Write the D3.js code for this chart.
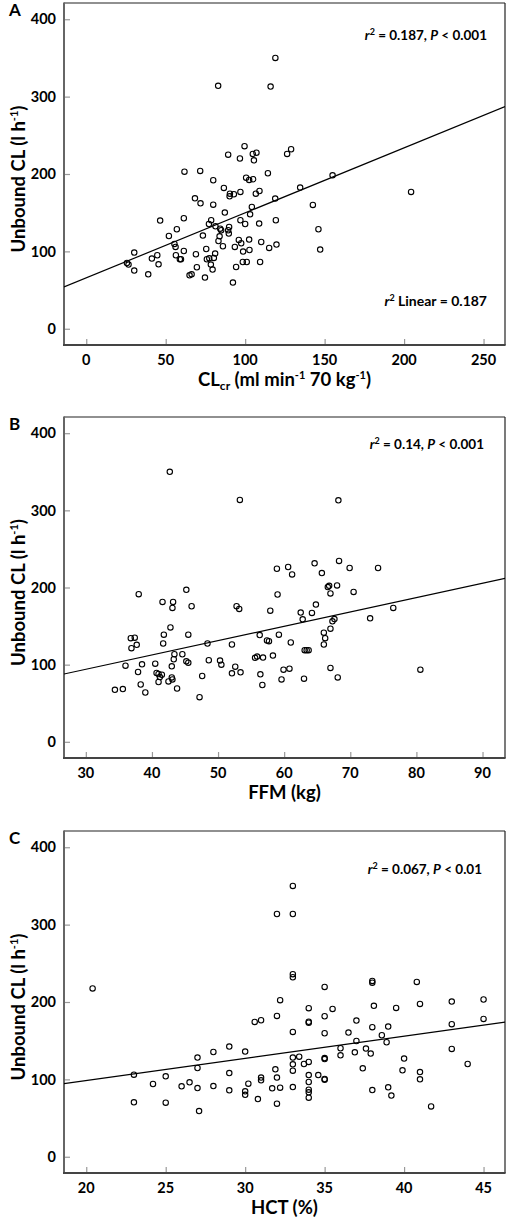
<!DOCTYPE html>
<html><head><meta charset="utf-8">
<script src="https://cdn.jsdelivr.net/npm/d3@7"></script>
<style>
html,body{margin:0;padding:0;background:#fff;}
svg text{font-family:Lato,"Open Sans",sans-serif;font-weight:bold;fill:#000;}
</style></head>
<body><svg id="chart" width="506" height="1220"></svg>
<script>
// ---------- data ----------
const yTicks = [0, 100, 200, 300, 400];
const xTicksA = [0, 50, 100, 150, 200, 250];
const xTicksB = [30, 40, 50, 60, 70, 80, 90];
const xTicksC = [20, 25, 30, 35, 40, 45];

const clcrA = [119,83,116,99.6,89.3,96.7,104.8,107.1,105.5,126.4,128.9,61.8,71.7,114.3,155,79.9,100.6,102.5,105,86.6,134.6,68.4,71.9,79.9,90.4,90.2,92.9,97,106.7,109,118.9,142.6,204.4,104.2,103.1,87.2,46.5,61.4,78.6,77.2,81.3,84.3,84.9,89.9,89.3,97,100,108.8,119.3,57,52,73.4,83.9,89.7,55.5,56.2,83.2,86,96,97.5,102.5,110.1,93.5,102.7,98.7,115.1,119.7,146.1,147.2,30.2,25.6,26.6,30.2,39,41.3,44.7,45.5,61.4,56.4,58.9,59.6,69,75.5,81.1,75.9,77.4,80.3,78.4,79.5,69.6,65,66.3,74.7,92.3,94.3,98.5,101,109.4];
const clA = [350,314,313,236,225,220,226,227.6,217.7,226,232,203,204,201,198.3,191.9,195.3,192.3,193.2,182,182.4,168.6,162.1,160.4,174.6,171.2,173.8,176.8,174.6,178,168.2,160,176.8,157.4,147.9,150.1,139.8,142.8,140.2,135.4,132.4,129.4,127.3,131.5,127.3,140.2,135.4,135.9,140.2,128.6,119.9,120.4,119.5,123,109.6,105.7,113.4,106.6,114.7,110.5,115.2,112.1,105.7,101.8,99.7,104.4,108.8,128.6,102.3,98.4,85,83,75.2,70.4,90.7,95,83.3,100.5,95,89.8,89.8,96.3,103.1,97.2,89.8,91,91.5,82.9,76.5,79.5,69.1,70.4,66.1,59.7,79.8,86.3,86.3,86.3];

const ffmB = [42.7,53.3,68.2,58.9,60.6,61.2,64.6,65.7,68.3,69.9,74.2,38,45.2,41.6,43.2,43.1,46,52.8,53.2,59,57.9,62.5,62.8,64.2,64.8,66.6,66.8,68,67,70.5,76.5,73,67.3,67.6,67,66,66.2,66,36.8,37.4,36.9,37.7,42.8,41.8,41.7,45.5,43.4,43.3,44.6,48.4,52.1,56.3,57.4,57.7,59.2,61,63.1,63.4,63.7,36,38.5,37.9,38.3,39,34.4,35.6,40.5,40.7,41,41.5,41.2,41,42.5,43,43.1,43,43.8,45.2,45.5,47.6,47.2,48.6,50.3,50.5,52.6,52.1,53.4,55.6,55.9,56.8,58.3,56.4,56.7,59.9,60.8,59.6,63,67,68.1,80.6];
const clB = [350,313.5,313,224.3,226.6,217,231.4,218.7,234.4,225.3,225.3,191.3,197,181.3,181.3,173.5,175.7,175.7,172.2,190.9,170,167.5,158.7,167,177.9,200.5,202.2,202.7,192.3,194.3,173.5,160,156.1,159.1,146.6,141.4,134.3,126.1,134.3,134.9,121.3,125.7,148.3,138.8,127.4,138.8,113.5,107,113.5,127.4,126.1,138.3,131.3,130.4,138.8,128.7,118.7,118.7,118.7,98.7,100.4,90.5,74.3,63.9,67.4,68.3,101.3,89.2,87.9,87,84,77.5,78.3,83.5,80.9,97.8,69.1,104.3,102.6,85.3,57.9,105.7,105.3,100,97.4,88.7,90,108.8,110.5,109.2,111.8,87.4,73.6,93.5,94.8,80.9,81.8,95.7,83.5,93.5];

const hctC = [33,32,33,20.4,33,33,38,38,40.8,35,32.2,45,43,41,38.1,39.5,34,35.5,32,35,30.6,31,34,34,37,45,43,38,39,33,35,36.5,38.6,38.9,37,43,36,36,36.9,37.6,37.9,40,44,39.9,41,41,37.4,38,39,39.2,41.7,27,27,27,28,29,30,29,28,29,23,23,24.2,25,25,26,26.5,27.1,30,30,30.2,30.8,31,31,31.7,32.2,31.9,32,32,33,33.4,33,33,33.7,33,34,34,34,34,34,34,34.6,35,35,35,35];
const clC = [350,313.7,313.7,217.5,236,232,227.3,225,226,219.5,202.3,203.2,200.6,197.5,195,192.4,192,191.1,182,181.6,174.2,176.4,174.5,173.3,176,178.1,171.3,167.4,168.3,161.3,159.6,160.5,157,148,149.6,139.3,140.2,131.1,135,139.8,133.3,126.9,119.9,111.7,109.5,100.1,114.3,86.2,89.7,79,65.1,128.2,114.7,88.8,135.4,142.4,135.9,108.2,91.4,85.8,106.1,70.3,94,103.9,69.9,91,96.2,59,84.5,80,94.5,74.6,102.3,98.8,88.4,89.3,113,102.3,68.6,128.2,129.4,119.5,111.3,119.9,90.1,122.5,105.6,96.6,86.7,83.2,76.4,105.6,127.5,126.3,100.5,99.5];

// regression lines: [intercept, slope]
const fitA = [65.8, 0.84];
const fitB = [38.3, 1.857];
const fitC = [41.1, 2.87];

const yTitle = "Unbound CL";
const panelLetters = ["A", "B", "C"];
const statsA = ["0.187", "< 0.001"];
const statsB = ["0.14", "< 0.001"];
const statsC = ["0.067", "< 0.01"];
const linearA = "0.187";

// ---------- layout ----------
const svg = d3.select("#chart");
const left = 64, right = 505;
const panels = [
  {top: 3, bottom: 345, xDom: [-14, 263.5], xTicks: xTicksA, xs: clcrA, ys: clA, fit: fitA, stats: statsA, statY: 37, statX: 487, letter: panelLetters[0], xt: "A"},
  {top: 417, bottom: 758, xDom: [26.7, 93.4], xTicks: xTicksB, xs: ffmB, ys: clB, fit: fitB, stats: statsB, statY: 32, statX: 484, letter: panelLetters[1], xt: "B"},
  {top: 831, bottom: 1173, xDom: [18.6, 46.35], xTicks: xTicksC, xs: hctC, ys: clC, fit: fitC, stats: statsC, statY: 43, statX: 482, letter: panelLetters[2], xt: "C"}
];

panels.forEach((p, i) => {
  const g = svg.append("g");
  const x = d3.scaleLinear().domain(p.xDom).range([left, right]);
  const y = d3.scaleLinear().domain([-21, 421]).range([p.bottom, p.top]);

  // clip
  const cid = "clip" + i;
  svg.append("clipPath").attr("id", cid).append("rect")
    .attr("x", left).attr("y", p.top).attr("width", right - left).attr("height", p.bottom - p.top);

  // frame top/right
  g.append("line").attr("x1", left).attr("x2", right).attr("y1", p.top).attr("y2", p.top)
    .attr("stroke", "#222").attr("stroke-width", 1.2);
  g.append("line").attr("x1", right).attr("x2", right).attr("y1", p.top).attr("y2", p.bottom)
    .attr("stroke", "#222").attr("stroke-width", 1.2);

  // y axis (ticks inward)
  const ya = d3.axisRight(y).tickValues(yTicks).tickSize(6).tickFormat("");
  const yg = g.append("g").attr("transform", `translate(${left},0)`).call(ya);
  yg.select(".domain").remove();
  yg.selectAll(".tick line").attr("stroke", "#999").attr("stroke-width", 1.2);
  yTicks.forEach(t => {
    g.append("text").attr("x", 56).attr("y", y(t)).attr("dy", "0.36em")
      .attr("text-anchor", "end").attr("font-size", 14.5).text(t);
  });

  // x axis (ticks inward)
  const xa = d3.axisTop(x).tickValues(p.xTicks).tickSize(6).tickFormat("");
  const xg = g.append("g").attr("transform", `translate(0,${p.bottom})`).call(xa);
  xg.select(".domain").remove();
  xg.selectAll(".tick line").attr("stroke", "#999").attr("stroke-width", 1.2);
  p.xTicks.forEach(t => {
    g.append("text").attr("x", x(t)).attr("y", p.bottom + 20)
      .attr("text-anchor", "middle").attr("font-size", 14.5).text(t);
  });

  // axis lines left/bottom
  g.append("line").attr("x1", left).attr("x2", left).attr("y1", p.top - 0.5).attr("y2", p.bottom + 1)
    .attr("stroke", "#666").attr("stroke-width", 2);
  g.append("line").attr("x1", left - 1).attr("x2", right + 0.6).attr("y1", p.bottom).attr("y2", p.bottom)
    .attr("stroke", "#444").attr("stroke-width", 2);

  // regression line
  const lineData = p.xDom.map(v => [v, p.fit[0] + p.fit[1] * v]);
  g.append("path").attr("clip-path", `url(#${cid})`)
    .attr("d", d3.line().x(d => x(d[0])).y(d => y(d[1]))(lineData))
    .attr("stroke", "#000").attr("stroke-width", 1.2).attr("fill", "none");

  // points
  g.append("g").selectAll("circle").data(p.xs.map((v, k) => [v, p.ys[k]])).join("circle")
    .attr("cx", d => x(d[0])).attr("cy", d => y(d[1])).attr("r", 2.7)
    .attr("fill", "none").attr("stroke", "#000").attr("stroke-width", 1.1);

  // panel letter
  g.append("text").attr("x", 9).attr("y", p.top + 13).attr("font-size", 17).text(p.letter);

  // y title
  const yt = g.append("text").attr("text-anchor", "middle").attr("font-size", 18.5)
    .attr("transform", `translate(25,${(p.top + p.bottom) / 2 + 5}) rotate(-90)`);
  yt.append("tspan").text(yTitle + " (l h");
  yt.append("tspan").attr("font-size", 11).attr("dy", -7).text("-1");
  yt.append("tspan").attr("dy", 7).text(")");

  // stats annotation
  const st = g.append("text").attr("x", p.statX).attr("y", p.top + p.statY)
    .attr("text-anchor", "end").attr("font-size", 13.5);
  st.append("tspan").attr("font-style", "italic").text("r");
  st.append("tspan").attr("font-size", 9).attr("dy", -5).text("2");
  st.append("tspan").attr("dy", 5).text(" = " + p.stats[0] + ", ");
  st.append("tspan").attr("font-style", "italic").text("P");
  st.append("tspan").text(" " + p.stats[1]);

  // x title
  const xtl = g.append("text").attr("x", (left + right) / 2).attr("y", p.bottom + 41)
    .attr("text-anchor", "middle").attr("font-size", 18.5);
  if (p.xt === "A") {
    xtl.append("tspan").text("CL");
    xtl.append("tspan").attr("font-size", 12).attr("dy", 4).text("cr");
    xtl.append("tspan").attr("dy", -4).text(" (ml min");
    xtl.append("tspan").attr("font-size", 11).attr("dy", -7).text("-1");
    xtl.append("tspan").attr("dy", 7).text(" 70 kg");
    xtl.append("tspan").attr("font-size", 11).attr("dy", -7).text("-1");
    xtl.append("tspan").attr("dy", 7).text(")");
    // r2 Linear
    const lt = g.append("text").attr("x", 487).attr("y", p.top + 303)
      .attr("text-anchor", "end").attr("font-size", 14);
    lt.append("tspan").attr("font-style", "italic").text("r");
    lt.append("tspan").attr("font-size", 9).attr("dy", -5).text("2");
    lt.append("tspan").attr("dy", 5).text(" Linear = " + linearA);
  } else if (p.xt === "B") {
    xtl.text("FFM (kg)");
  } else {
    xtl.text("HCT (%)");
  }
});
</script></body></html>
